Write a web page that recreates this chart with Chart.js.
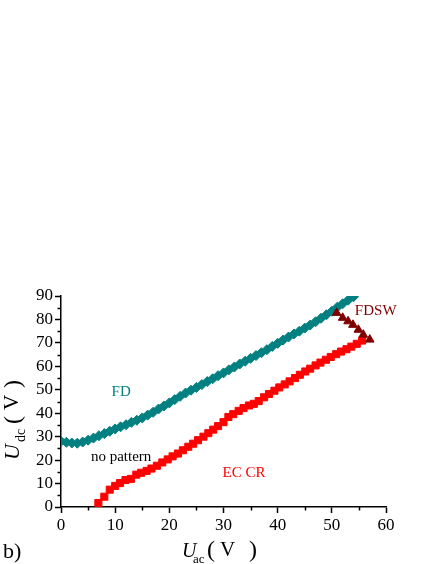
<!DOCTYPE html>
<html><head><meta charset="utf-8">
<script src="https://cdn.jsdelivr.net/npm/chart.js@4"></script>
<style>html,body{margin:0;padding:0;background:#fff}#wrap{width:436px;height:564px;position:relative}</style>
</head><body><div id="wrap"><canvas id="c" width="436" height="564"></canvas></div>
<script>
// ---- data ----
const fdU = [0,1,2,3,4,5,6,7,8,9,10,11,12,13,14,15,16,17,18,19,20,21,22,23,24,25,26,27,28,29,30,31,32,33,34,35,36,37,38,39,40,41,42,43,44,45,46,47,48,49,50,51,52,53,54];
const fdV = [28.0,27.6,27.3,27.2,27.7,28.5,29.4,30.4,31.3,32.3,33.3,34.2,35.1,36.1,37.0,38.0,39.2,40.4,41.8,43.1,44.4,45.8,47.2,48.6,49.8,51.0,52.2,53.5,54.7,56.0,57.2,58.5,59.7,61.0,62.2,63.4,64.6,65.8,67.1,68.5,69.8,71.2,72.5,73.8,75.0,76.3,77.6,79.0,80.5,82.0,83.5,85.2,86.7,88.2,89.7];
const ecU = [6.9,8.0,9.0,10.0,10.9,11.9,12.9,13.9,14.8,15.8,16.7,17.7,18.7,19.7,20.6,21.6,22.5,23.5,24.4,25.3,26.3,27.2,28.1,29.0,30.0,30.9,31.8,32.8,33.7,34.7,35.6,36.5,37.5,38.4,39.4,40.3,41.3,42.2,43.2,44.1,45.1,46.0,47.0,47.9,48.9,49.8,50.8,51.7,52.7,53.6,54.6,55.6];
const ecV = [1.7,4.4,7.4,9.0,10.2,11.5,12.0,13.8,14.6,15.4,16.4,17.6,19.0,20.3,21.6,22.8,24.2,25.7,27.0,28.5,30.0,31.5,33.0,34.5,36.2,38.4,39.6,41.0,42.2,43.3,44.0,45.2,46.8,48.2,49.6,51.0,52.3,53.6,55.0,56.4,57.8,59.0,60.4,61.6,62.8,64.0,65.2,66.3,67.3,68.4,69.6,71.0];
const fdswU = [50.9,52.0,53.0,53.9,54.9,55.8,57.0];
const fdswV = [82.8,80.7,79.2,77.7,75.6,73.5,71.4];
const xTicks = [0,10,20,30,40,50,60];
const yTicks = [0,10,20,30,40,50,60,70,80,90];
const regionLabels = [
  {text:'FD', u:11.1, v:49.0, color:'#008080'},
  {text:'no pattern', u:11.1, v:21.2, color:'#000000'},
  {text:'EC CR', u:33.8, v:14.6, color:'#ff0000'},
  {text:'FDSW', u:58.1, v:83.7, color:'#800000'}
];

const pts = (xs, ys) => xs.map((x, i) => ({x, y: ys[i]}));
const SERIF = '"Liberation Serif", "Times New Roman", serif';

const decor = {
  id: 'decor',
  afterDraw(chart) {
    const ctx = chart.ctx, xs = chart.scales.x, ys = chart.scales.y, ca = chart.chartArea;
    ctx.save();
    // minor ticks
    ctx.strokeStyle = '#000'; ctx.lineWidth = 1.5;
    for (let v = 5; v < 60; v += 10) {
      const px = Math.round(xs.getPixelForValue(v)) + 0.5;
      ctx.beginPath(); ctx.moveTo(px, ca.bottom); ctx.lineTo(px, ca.bottom + 3.5); ctx.stroke();
    }
    for (let v = 5; v < 90; v += 10) {
      const py = Math.round(ys.getPixelForValue(v)) + 0.5;
      ctx.beginPath(); ctx.moveTo(ca.left, py); ctx.lineTo(ca.left - 3.5, py); ctx.stroke();
    }
    // region labels
    ctx.textAlign = 'center'; ctx.textBaseline = 'middle';
    ctx.font = '15px ' + SERIF;
    regionLabels.forEach(l => {
      ctx.fillStyle = l.color;
      ctx.fillText(l.text, xs.getPixelForValue(l.u), ys.getPixelForValue(l.v));
    });
    // panel label
    ctx.fillStyle = '#000'; ctx.textAlign = 'left'; ctx.textBaseline = 'alphabetic';
    ctx.font = '22px ' + SERIF;
    ctx.fillText('b)', 3, 558);
    // x title
    ctx.font = 'italic 20px ' + SERIF; ctx.fillText('U', 182, 557);
    ctx.font = '13px ' + SERIF; ctx.fillText('ac', 193, 563);
    ctx.font = '24px ' + SERIF; ctx.fillText('(', 207, 557);
    ctx.font = '21px ' + SERIF; ctx.fillText('V', 220, 556);
    ctx.font = '24px ' + SERIF; ctx.fillText(')', 249, 557);
    // y title (rotated)
    ctx.rotate(-Math.PI / 2);
    ctx.font = 'italic 22px ' + SERIF; ctx.fillText('U', -460, 18.5);
    ctx.font = '14px ' + SERIF; ctx.fillText('dc', -442, 25);
    ctx.font = '24px ' + SERIF; ctx.fillText('(', -424, 20);
    ctx.font = '21px ' + SERIF; ctx.fillText('V', -410, 18);
    ctx.font = '24px ' + SERIF; ctx.fillText(')', -388, 20);
    ctx.restore();
  }
};

new Chart(document.getElementById('c'), {
  type: 'scatter',
  data: {
    datasets: [
      {label:'FDSW', data: pts(fdswU, fdswV), pointStyle:'triangle', pointRadius:5, backgroundColor:'#800000', borderColor:'#800000', borderWidth:1, showLine:false},
      {label:'FD', data: pts(fdU, fdV), pointStyle:'rectRot', pointRadius:5, backgroundColor:'#008080', borderColor:'#008080', borderWidth:1, showLine:false},
      {label:'EC CR', data: pts(ecU, ecV), pointStyle:'rect', pointRadius:5, backgroundColor:'#ff0000', borderColor:'#ff0000', borderWidth:1, showLine:false}
    ]
  },
  options: {
    responsive: false, animation: false, devicePixelRatio: 1,
    layout: {padding: {left: 0, top: 296, right: 50, bottom: 0}},
    plugins: {legend: {display: false}, tooltip: {enabled: false}},
    scales: {
      x: {
        type: 'linear', min: 0, max: 60,
        afterFit(s) { s.height = 57; },
        afterBuildTicks(s) { s.ticks = xTicks.map(v => ({value: v})); },
        ticks: {autoSkip: false, maxRotation: 0, color: '#000', padding: 2, font: {family: SERIF, size: 17}},
        grid: {drawOnChartArea: false, tickLength: 6, tickColor: '#000', tickWidth: 1.5},
        border: {color: '#000', width: 1.5}
      },
      y: {
        type: 'linear', min: 0, max: 90,
        afterFit(s) { s.width = 61; },
        afterBuildTicks(s) { s.ticks = yTicks.map(v => ({value: v})); },
        ticks: {autoSkip: false, color: '#000', padding: 2, font: {family: SERIF, size: 17}},
        grid: {drawOnChartArea: false, tickLength: 6, tickColor: '#000', tickWidth: 1.5},
        border: {color: '#000', width: 1.5}
      }
    }
  },
  plugins: [decor]
});
</script></body></html>
